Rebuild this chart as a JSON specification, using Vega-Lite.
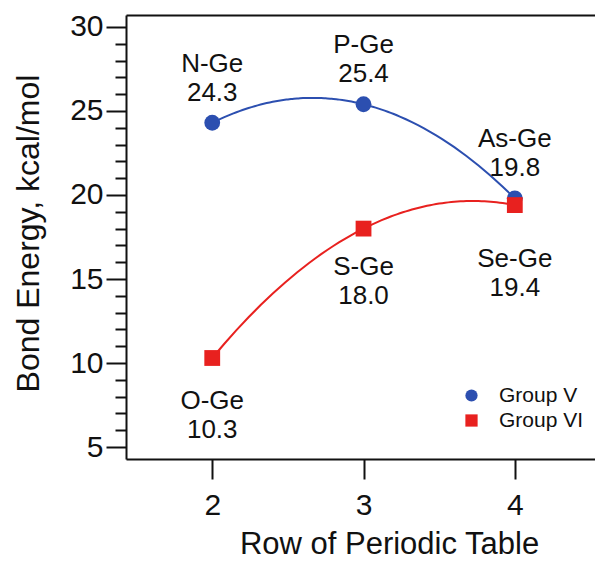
{
  "$schema": "https://vega.github.io/schema/vega-lite/v6.json",
  "autosize": "none",
  "width": 469,
  "height": 444,
  "padding": {"left": 126, "top": 15, "right": 0, "bottom": 103},
  "background": "white",
  "config": {
    "view": {"stroke": null},
    "font": "Liberation Sans",
    "axis": {"domainColor": "#111", "tickColor": "#111", "labelColor": "#111", "titleColor": "#111", "domainWidth": 2, "tickWidth": 2, "grid": false, "labelFont": "Liberation Sans", "titleFont": "Liberation Sans", "titleFontWeight": "normal"},
    "text": {"font": "Liberation Sans"}
  },
  "data": {
    "values": [
      {"row": 2, "energy": 24.3, "group": "Group V", "bond": "N-Ge", "label": "N-Ge\n24.3"},
      {"row": 3, "energy": 25.4, "group": "Group V", "bond": "P-Ge", "label": "P-Ge\n25.4"},
      {"row": 4, "energy": 19.8, "group": "Group V", "bond": "As-Ge", "label": "As-Ge\n19.8"},
      {"row": 2, "energy": 10.3, "group": "Group VI", "bond": "O-Ge", "label": "O-Ge\n10.3"},
      {"row": 3, "energy": 18.0, "group": "Group VI", "bond": "S-Ge", "label": "S-Ge\n18.0"},
      {"row": 4, "energy": 19.4, "group": "Group VI", "bond": "Se-Ge", "label": "Se-Ge\n19.4"}
    ]
  },
  "resolve": {"axis": {"x": "independent", "y": "independent"}},
  "layer": [
    {
      "transform": [{"filter": "datum.group === 'Group V'"}, {"regression": "energy", "on": "row", "method": "poly", "order": 2, "extent": [2, 4]}],
      "mark": {"type": "line", "strokeWidth": 2, "color": "#2c4fb0"},
      "encoding": {
        "x": {"field": "row", "type": "quantitative", "scale": {"domain": [1.43, 4.53], "nice": false, "zero": false},
          "axis": {"orient": "bottom", "values": [2, 3, 4], "tickSize": 20, "labelFontSize": 30, "labelPadding": 11, "labelBaseline": "top", "title": "Row of Periodic Table", "titleFontSize": 31, "titleBaseline": "alphabetic", "titleAlign": "center", "titleY": 94, "titleX": 263}},
        "y": {"field": "energy", "type": "quantitative", "scale": {"domain": [4.29, 30.71], "nice": false, "zero": false},
          "axis": {"orient": "left", "values": [5, 10, 15, 20, 25, 30], "tickSize": 20, "labelFontSize": 30, "labelPadding": 3, "title": "Bond Energy, kcal/mol", "titleFontSize": 32, "titleBaseline": "alphabetic", "titleAlign": "center", "titleX": -88, "titleY": 218, "titleAngle": -90}}
      }
    },
    {
      "transform": [{"filter": "datum.group === 'Group VI'"}, {"regression": "energy", "on": "row", "method": "poly", "order": 2, "extent": [2, 4]}],
      "mark": {"type": "line", "strokeWidth": 2, "color": "#e8211f"},
      "encoding": {
        "x": {"field": "row", "type": "quantitative", "axis": null},
        "y": {"field": "energy", "type": "quantitative", "axis": null}
      }
    },
    {
      "mark": {"type": "point", "filled": true, "opacity": 1, "size": 250},
      "encoding": {
        "x": {"field": "row", "type": "quantitative", "axis": {"orient": "top", "domain": true, "ticks": false, "labels": false, "title": null}},
        "y": {"field": "energy", "type": "quantitative", "axis": {"orient": "left", "domain": false, "values": [6, 7, 8, 9, 11, 12, 13, 14, 16, 17, 18, 19, 21, 22, 23, 24, 26, 27, 28, 29], "tickSize": 11, "labels": false, "title": null}},
        "color": {"field": "group", "type": "nominal", "scale": {"domain": ["Group V", "Group VI"], "range": ["#2c4fb0", "#e8211f"]},
          "legend": {"orient": "none", "legendX": 335, "legendY": 370, "title": null, "labelFontSize": 21, "labelColor": "#111", "labelFont": "Liberation Sans", "symbolSize": 150, "labelOffset": 17, "rowPadding": 3, "padding": 0}},
        "shape": {"field": "group", "type": "nominal", "scale": {"domain": ["Group V", "Group VI"], "range": ["circle", "square"]},
          "legend": {"orient": "none", "legendX": 335, "legendY": 370, "title": null, "labelFontSize": 21, "labelColor": "#111", "labelFont": "Liberation Sans", "symbolSize": 150, "labelOffset": 17, "rowPadding": 3, "padding": 0}}
      }
    },
    {
      "transform": [{"filter": "datum.group === 'Group V'"}],
      "mark": {"type": "text", "fontSize": 26, "lineBreak": "\n", "lineHeight": 29, "baseline": "middle", "dy": -59, "color": "#111"},
      "encoding": {"x": {"field": "row", "type": "quantitative", "axis": null}, "y": {"field": "energy", "type": "quantitative", "axis": null}, "text": {"field": "label"}}
    },
    {
      "transform": [{"filter": "datum.bond === 'O-Ge'"}],
      "mark": {"type": "text", "fontSize": 26, "lineBreak": "\n", "lineHeight": 29, "baseline": "middle", "dy": 43, "color": "#111"},
      "encoding": {"x": {"field": "row", "type": "quantitative", "axis": null}, "y": {"field": "energy", "type": "quantitative", "axis": null}, "text": {"field": "label"}}
    },
    {
      "transform": [{"filter": "datum.bond === 'S-Ge'"}],
      "mark": {"type": "text", "fontSize": 26, "lineBreak": "\n", "lineHeight": 29, "baseline": "middle", "dy": 38, "color": "#111"},
      "encoding": {"x": {"field": "row", "type": "quantitative", "axis": null}, "y": {"field": "energy", "type": "quantitative", "axis": null}, "text": {"field": "label"}}
    },
    {
      "transform": [{"filter": "datum.bond === 'Se-Ge'"}],
      "mark": {"type": "text", "fontSize": 26, "lineBreak": "\n", "lineHeight": 29, "baseline": "middle", "dy": 54, "color": "#111"},
      "encoding": {"x": {"field": "row", "type": "quantitative", "axis": null}, "y": {"field": "energy", "type": "quantitative", "axis": null}, "text": {"field": "label"}}
    }
  ]
}
